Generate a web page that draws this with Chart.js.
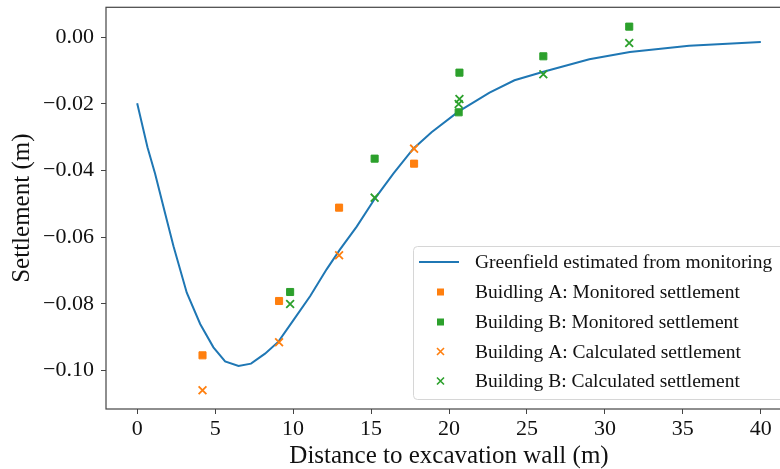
<!DOCTYPE html>
<html>
<head>
<meta charset="utf-8">
<script src="https://cdn.jsdelivr.net/npm/chart.js@4.4.1/dist/chart.umd.min.js"></script>
<style>
html,body{margin:0;padding:0;overflow:hidden;background:#fff;}
#wrap{width:800px;height:469px;}
</style>
</head>
<body>
<div id="wrap"><canvas id="c" width="800" height="469"></canvas></div>
<script>
// ---- data ----
const curveX = [0, 0.66, 1.15, 1.79, 2.33, 3.18, 4.04, 4.89, 5.64, 6.5, 7.3, 8.2, 9.06, 10.0, 11.1, 12.15, 13.0, 14.08, 15.26, 16.43, 17.71, 18.88, 20.6, 22.6, 24.2, 26.0, 29.0, 31.6, 35.4, 40];
const curveY = [-0.0198, -0.033, -0.0409, -0.0528, -0.0627, -0.0766, -0.086, -0.093, -0.0972, -0.0986, -0.0979, -0.0949, -0.0913, -0.085, -0.0776, -0.0696, -0.0637, -0.0568, -0.0483, -0.0409, -0.0334, -0.0285, -0.0223, -0.0166, -0.0129, -0.0104, -0.0066, -0.0044, -0.0025, -0.0014];

const aX = [4.19, 9.1, 12.95, 17.76];
const aMonitored = [-0.0954, -0.0791, -0.0511, -0.0379];
const aCalculated = [-0.1059, -0.0915, -0.0654, -0.0334];

const bX = [9.81, 15.23, 20.62, 20.67, 26.05, 31.56];
const bMonitored = [-0.0764, -0.0364, -0.0225, -0.0106, -0.0057, 0.0032];
const bCalculated = [-0.080, -0.0481, -0.020, -0.0185, -0.0111, -0.0017];

const xTicks = [0, 5, 10, 15, 20, 25, 30, 35, 40];
const yTicks = [0.00, -0.02, -0.04, -0.06, -0.08, -0.10];

const labels = [
  'Greenfield estimated from monitoring',
  'Buidling A: Monitored settlement',
  'Building B: Monitored settlement',
  'Building A: Calculated settlement',
  'Building B: Calculated settlement'
];

const BLUE = '#1f77b4', ORANGE = '#ff7f0e', GREEN = '#2ca02c';
const FONT = "'Liberation Serif', 'Times New Roman', serif";
const FRAME = '#444';

const pts = (xs, ys) => xs.map((x, i) => ({x: x, y: ys[i]}));

const frameAndLegend = {
  id: 'frameAndLegend',
  afterDatasetsDraw(chart) {
    const {ctx, chartArea: a} = chart;
    ctx.save();
    ctx.strokeStyle = FRAME;
    ctx.lineWidth = 1.2;
    ctx.strokeRect(a.left, a.top, a.right - a.left, a.bottom - a.top);

    // legend box
    const bx = 413.5, by = 246.5, bw = 372, bh = 153;
    ctx.beginPath();
    const r = 4;
    ctx.moveTo(bx + r, by);
    ctx.lineTo(bx + bw - r, by);
    ctx.quadraticCurveTo(bx + bw, by, bx + bw, by + r);
    ctx.lineTo(bx + bw, by + bh - r);
    ctx.quadraticCurveTo(bx + bw, by + bh, bx + bw - r, by + bh);
    ctx.lineTo(bx + r, by + bh);
    ctx.quadraticCurveTo(bx, by + bh, bx, by + bh - r);
    ctx.lineTo(bx, by + r);
    ctx.quadraticCurveTo(bx, by, bx + r, by);
    ctx.closePath();
    ctx.fillStyle = 'rgba(255,255,255,0.8)';
    ctx.fill();
    ctx.strokeStyle = '#d6d6d6';
    ctx.lineWidth = 1;
    ctx.stroke();

    const rows = [262, 292, 322, 351.5, 381];
    const ds = chart.data.datasets;
    ctx.font = '19.5px ' + FONT;
    ctx.textBaseline = 'middle';
    ctx.textAlign = 'left';
    ds.forEach((d, i) => {
      const y = rows[i];
      if (i === 0) {
        ctx.strokeStyle = d.borderColor;
        ctx.lineWidth = 2;
        ctx.beginPath();
        ctx.moveTo(419, y);
        ctx.lineTo(459, y);
        ctx.stroke();
      } else if (d.pointStyle === 'rect') {
        ctx.fillStyle = d.backgroundColor;
        ctx.fillRect(437, y - 3.5, 7, 7);
      } else {
        ctx.strokeStyle = d.borderColor;
        ctx.lineWidth = 1.6;
        ctx.beginPath();
        ctx.moveTo(437, y - 3.5); ctx.lineTo(444, y + 3.5);
        ctx.moveTo(444, y - 3.5); ctx.lineTo(437, y + 3.5);
        ctx.stroke();
      }
      ctx.fillStyle = '#111';
      ctx.fillText(d.label, 475, y + 1);
    });
    ctx.restore();
  }
};

new Chart(document.getElementById('c'), {
  type: 'scatter',
  data: {
    datasets: [
      {type: 'line', label: labels[0], data: pts(curveX, curveY), borderColor: BLUE, borderWidth: 2, pointRadius: 0, tension: 0, fill: false, order: 5},
      {label: labels[1], data: pts(aX, aMonitored), pointStyle: 'rect', backgroundColor: ORANGE, borderColor: ORANGE, borderWidth: 1, pointRadius: 5, order: 4},
      {label: labels[2], data: pts(bX, bMonitored), pointStyle: 'rect', backgroundColor: GREEN, borderColor: GREEN, borderWidth: 1, pointRadius: 5, order: 3},
      {label: labels[3], data: pts(aX, aCalculated), pointStyle: 'crossRot', backgroundColor: ORANGE, borderColor: ORANGE, borderWidth: 1.8, pointRadius: 5.5, order: 2},
      {label: labels[4], data: pts(bX, bCalculated), pointStyle: 'crossRot', backgroundColor: GREEN, borderColor: GREEN, borderWidth: 1.8, pointRadius: 5.5, order: 1}
    ]
  },
  options: {
    responsive: false,
    animation: false,
    devicePixelRatio: 1,
    layout: {padding: {top: 6, right: 8, left: 0, bottom: 0}},
    plugins: {legend: {display: false}, tooltip: {enabled: false}},
    scales: {
      x: {
        type: 'linear', min: -2, max: 42,
        afterFit(s) { s.height = 60; s.paddingLeft = 0; s.paddingRight = 0; },
        afterBuildTicks(s) { s.ticks = xTicks.map(v => ({value: v})); },
        grid: {display: true, drawOnChartArea: false, drawTicks: true, tickLength: 5, color: FRAME, lineWidth: 1},
        border: {display: false},
        ticks: {color: '#111', font: {family: FONT, size: 22}, padding: 2, maxRotation: 0, callback: v => String(v)},
        title: {display: true, text: 'Distance to excavation wall (m)', color: '#111', font: {family: FONT, size: 25, lineHeight: 1}, padding: {top: 0, bottom: 0}}
      },
      y: {
        type: 'linear', min: -0.1115, max: 0.009,
        afterFit(s) { s.width = 106; s.paddingTop = 0; s.paddingBottom = 0; },
        afterBuildTicks(s) { s.ticks = yTicks.map(v => ({value: v})); },
        grid: {display: true, drawOnChartArea: false, drawTicks: true, tickLength: 5, color: FRAME, lineWidth: 1},
        border: {display: false},
        ticks: {color: '#111', font: {family: FONT, size: 22}, padding: 7, callback: v => v.toFixed(2).replace('-', '\u2212')},
        title: {display: true, text: 'Settlement (m)', color: '#111', font: {family: FONT, size: 25, lineHeight: 1}, padding: {top: 10, bottom: 0}}
      }
    }
  },
  plugins: [frameAndLegend]
});
</script>
</body>
</html>
